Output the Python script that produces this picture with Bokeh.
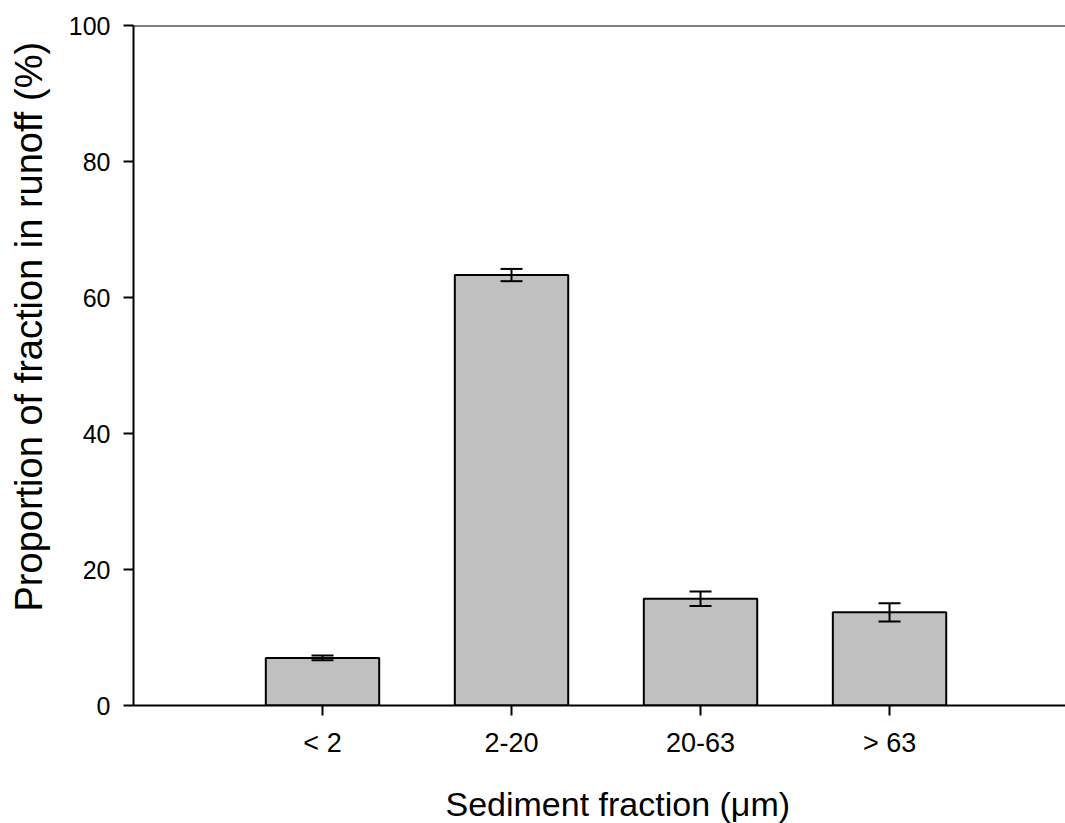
from bokeh.plotting import figure
from bokeh.models import Range1d, FixedTicker, ColumnDataSource, Whisker, TeeHead, Span, Title
from bokeh.embed import file_html
from bokeh.resources import INLINE

categories = ["< 2", "2-20", "20-63", "> 63"]
values = [7.0, 63.3, 15.7, 13.7]
errors = [0.35, 0.9, 1.05, 1.35]
y_ticks = [0, 20, 40, 60, 80, 100]
x_title = "Sediment fraction (\u03bcm)"
y_title = "Proportion of fraction in runoff (%)"

xs = list(range(1, len(categories) + 1))
src = ColumnDataSource(dict(
    x=xs, top=values,
    upper=[v + e for v, e in zip(values, errors)],
    lower=[v - e for v, e in zip(values, errors)],
))

FONT = "Liberation Sans"

p = figure(width=1065, height=823, output_backend="svg", toolbar_location=None,
           x_range=Range1d(0, 4.931), y_range=Range1d(0, 100),
           min_border_left=133, min_border_right=0, min_border_top=25, min_border_bottom=118)
p.outline_line_color = None
p.grid.visible = False
p.background_fill_color = "white"
p.border_fill_color = "white"

p.vbar(x="x", top="top", bottom=0, width=0.6, source=src,
       fill_color="#c0c0c0", line_color="black", line_width=2)

w = Whisker(base="x", upper="upper", lower="lower", source=src, dimension="height",
            line_color="black", line_width=2, level="overlay",
            upper_head=TeeHead(size=22, line_color="black", line_width=2),
            lower_head=TeeHead(size=22, line_color="black", line_width=2))
p.add_layout(w)

p.add_layout(Span(location=100, dimension="width", line_color="black", line_width=2))

xa = p.xaxis[0]
xa.ticker = FixedTicker(ticks=xs)
xa.major_label_overrides = {x: c for x, c in zip(xs, categories)}
ya = p.yaxis[0]
ya.ticker = FixedTicker(ticks=y_ticks)

for ax in (xa, ya):
    ax.axis_line_width = 2
    ax.axis_line_color = "black"
    ax.major_tick_line_width = 2
    ax.major_tick_line_color = "black"
    ax.major_tick_out = 10
    ax.major_tick_in = 0
    ax.minor_tick_line_color = None
    ax.major_label_text_font = FONT
    ax.major_label_text_color = "black"

xa.major_label_text_font_size = "27px"
ya.major_label_text_font_size = "25px"
xa.major_label_standoff = 12
ya.major_label_standoff = 13

xt = Title(text=x_title, align="left", offset=312,
           text_font=FONT, text_font_size="34px", text_font_style="normal",
           text_color="black", standoff=0,
           padding=dict(top=22, bottom=0, left=0, right=0))
p.add_layout(xt, "below")
yt = Title(text=y_title, align="left", offset=94,
           text_font=FONT, text_font_size="38px", text_font_style="normal",
           text_color="black", standoff=0,
           padding=dict(top=0, bottom=16, left=0, right=0))
p.add_layout(yt, "left")

open("out.html", "w").write(file_html(p, INLINE))
